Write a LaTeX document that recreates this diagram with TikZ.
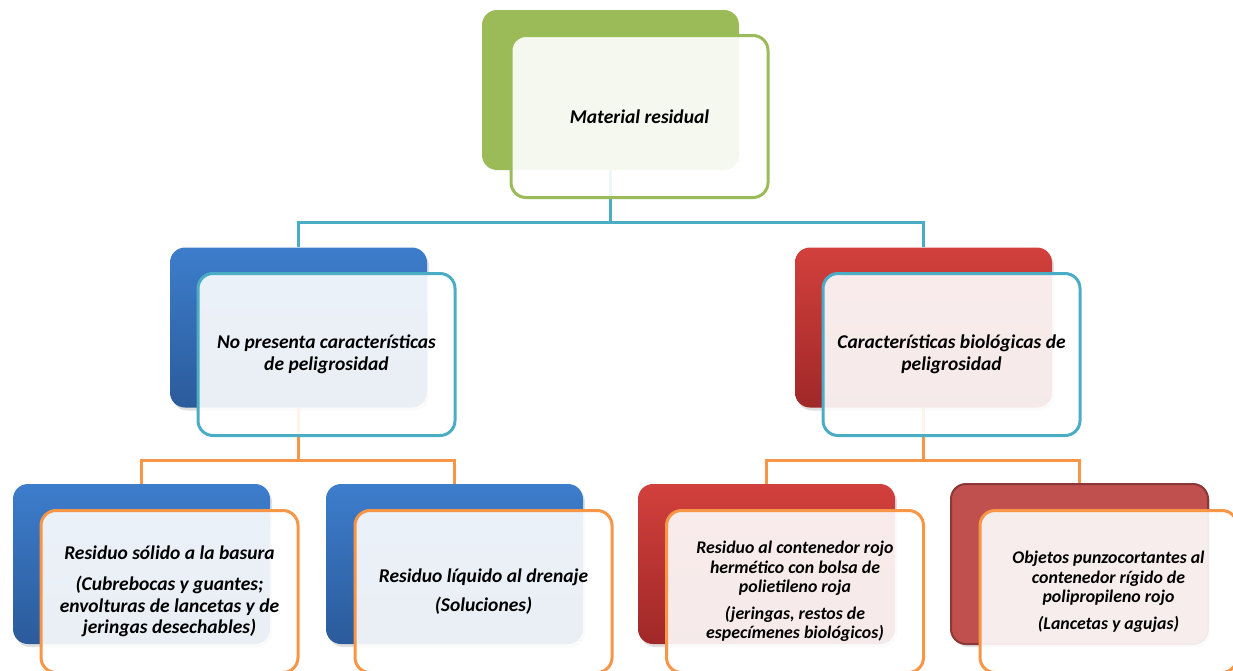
\documentclass[tikz,border=0pt]{standalone}
\usepackage{fontspec}
\setmainfont{Carlito}
\usetikzlibrary{shadows}
\definecolor{cgreen}{HTML}{9BBB59}
\definecolor{cteal}{HTML}{4BACC6}
\definecolor{corange}{HTML}{F79646}
\definecolor{cbluetop}{HTML}{3D7DCC}
\definecolor{cbluebot}{HTML}{2B5B9B}
\definecolor{credtop}{HTML}{D2403C}
\definecolor{credbot}{HTML}{A02828}
\definecolor{cred4}{HTML}{C0504D}
\definecolor{cred4b}{HTML}{8C3836}
\tikzset{
  backbox/.style={minimum width=257pt, minimum height=160pt, rounded corners=15pt, inner sep=0pt},
  shad/.style={drop shadow={opacity=0.25, shadow xshift=2pt, shadow yshift=-3pt}},
  greenback/.style={backbox, fill=cgreen},
  blueback/.style={backbox, shad, top color=cbluetop, bottom color=cbluebot},
  redback/.style={backbox, shad, top color=credtop, bottom color=credbot},
  red4back/.style={backbox, shad, fill=cred4, draw=cred4b, line width=2pt},
  frontbox/.style={minimum width=257pt, minimum height=162pt, rounded corners=15pt, inner sep=0pt,
     line width=3pt, fill=white, fill opacity=0.9, text opacity=1, align=center,
     font=\fontsize{19.5}{21.5}\selectfont\bfseries\itshape},
  smalltext/.style={font=\fontsize{17.8}{19.5}\selectfont\bfseries\itshape},
  connT/.style={draw=cteal, line width=3pt},
  connO/.style={draw=corange, line width=3pt},
}
\begin{document}
\begin{tikzpicture}[x=1pt,y=-1pt]
\useasboundingbox (0,0) rectangle (1233,670);
% bus coordinates and back boxes (named for connectors)
\coordinate (bus1) at (610.5,222);
\coordinate (bus2) at (298.5,460);
\coordinate (bus3) at (923.5,460);
\path (610.5,90) node[backbox] (tb) {};
\path (298.5,327.5) node[backbox] (mlb) {};
\path (923.5,327.5) node[backbox] (mrb) {};
\path (141.5,564) node[backbox] (b1b) {};
\path (454.5,564) node[backbox] (b2b) {};
\path (766.5,564) node[backbox] (b3b) {};
\path (1079.5,564) node[backbox] (b4b) {};
% connectors
\draw[connT] (tb.south) -- (bus1) -| (mlb.north);
\draw[connT] (bus1) -| (mrb.north);
\draw[connO] (mlb.south) -- (bus2) -| (b1b.north);
\draw[connO] (bus2) -| (b2b.north);
\draw[connO] (mrb.south) -- (bus3) -| (b3b.north);
\draw[connO] (bus3) -| (b4b.north);
% filled back boxes
\node[greenback] at (tb.center) {};
\node[blueback] at (mlb.center) {};
\node[redback] at (mrb.center) {};
\node[blueback] at (b1b.center) {};
\node[blueback] at (b2b.center) {};
\node[redback] at (b3b.center) {};
\node[red4back] at (b4b.center) {};
% front boxes
\node[frontbox, draw=cgreen] (tf) at (639.5,116.5) {Material residual};
\node[frontbox, draw=cteal] (mlf) at (326.5,354.5) {No presenta características\\de peligrosidad};
\node[frontbox, draw=cteal] (mrf) at (951.5,354.5) {Características biológicas de\\peligrosidad};
\node[frontbox, draw=corange] (b1f) at (169.5,591.5) {Residuo sólido a la basura\\[10pt](Cubrebocas y guantes;\\envolturas de lancetas y de\\jeringas desechables)};
\node[frontbox, draw=corange] (b2f) at (483.5,591.5) {Residuo líquido al drenaje\\[8pt](Soluciones)};
\node[frontbox, draw=corange, smalltext] (b3f) at (795,591.5) {Residuo al contenedor rojo\\hermético con bolsa de\\polietileno roja\\[7pt](jeringas, restos de\\especímenes biológicos)};
\node[frontbox, draw=corange, smalltext] (b4f) at (1108.5,591.5) {Objetos punzocortantes al\\contenedor rígido de\\polipropileno rojo\\[7pt](Lancetas y agujas)};
\end{tikzpicture}
\end{document}
